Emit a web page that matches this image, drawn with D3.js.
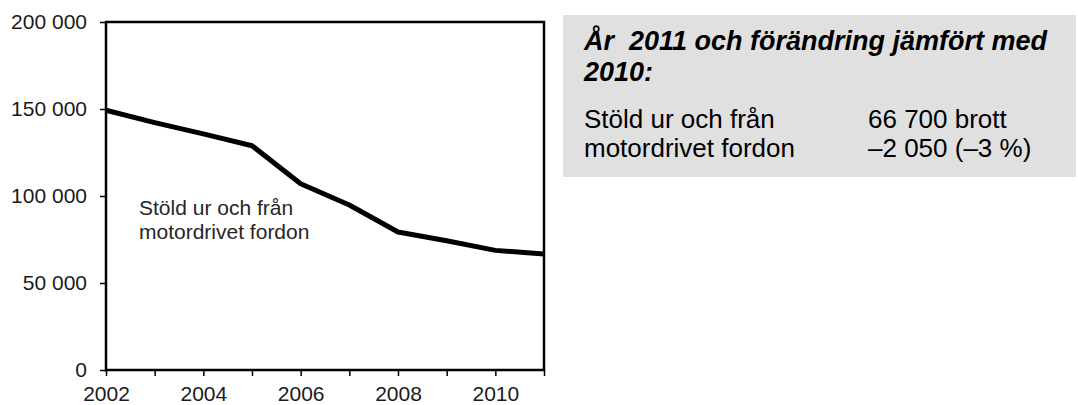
<!DOCTYPE html>
<html>
<head>
<meta charset="utf-8">
<script src="https://cdn.jsdelivr.net/npm/d3@7"></script>
<style>
  body { margin: 0; background: #fff; }
  svg { display: block; font-family: "Liberation Sans", Arial, sans-serif; }
</style>
</head>
<body>
<svg width="1078" height="405"></svg>
<script>
var WIDTH = 1078;
var HEIGHT = 405;

var years = [2002, 2003, 2004, 2005, 2006, 2007, 2008, 2009, 2010, 2011];
var thefts = [149300, 142200, 135700, 128900, 107000, 94800, 79300, 74300, 68750, 66700];
var yTicks = [0, 50000, 100000, 150000, 200000];
var labeledYears = [2002, 2004, 2006, 2008, 2010];
var seriesLabel = ['Stöld ur och från', 'motordrivet fordon'];
var boxTitle = ['År  2011 och förändring jämfört med', '2010:'];
var boxRows = [
    ['Stöld ur och från', '66 700 brott'],
    ['motordrivet fordon', '–2 050 (–3 %)']
];

var plot = { left: 106, top: 22, right: 544, bottom: 370 };

var svg = d3.select('svg')
    .attr('width', WIDTH)
    .attr('height', HEIGHT);

var xScale = d3.scaleLinear()
    .domain([2002, 2011])
    .range([plot.left, plot.right]);

var yScale = d3.scaleLinear()
    .domain([0, 200000])
    .range([plot.bottom, plot.top]);

var sv = d3.formatLocale({ decimal: ',', thousands: ' ', grouping: [3], currency: ['', ''] });
var fmt = sv.format(',d');

// axes
var bottomAxis = d3.axisBottom(xScale)
    .tickValues(years)
    .tickSize(6)
    .tickPadding(10)
    .tickSizeOuter(0)
    .tickFormat(function(d){
        return labeledYears.indexOf(d) >= 0 ? d : '';
    });

var leftAxis = d3.axisLeft(yScale)
    .tickValues(yTicks)
    .tickSize(6)
    .tickPadding(13)
    .tickSizeOuter(0)
    .tickFormat(fmt);

var gx = svg.append('g')
    .attr('transform', 'translate(0,' + plot.bottom + ')')
    .call(bottomAxis);

var gy = svg.append('g')
    .attr('transform', 'translate(' + plot.left + ',0)')
    .call(leftAxis);

[gx, gy].forEach(function(g){
    g.select('.domain').remove();
    g.selectAll('line').attr('stroke', '#000').attr('stroke-width', 1.5);
    g.selectAll('text')
        .attr('fill', '#1a1a1a')
        .style('font-size', '21px');
});

// frame round the plot
svg.append('rect')
    .attr('x', plot.left)
    .attr('y', plot.top)
    .attr('width', plot.right - plot.left)
    .attr('height', plot.bottom - plot.top)
    .attr('fill', 'none')
    .attr('stroke', '#000')
    .attr('stroke-width', 2.5);

// the series
var line = d3.line()
    .x(function(d, i){ return xScale(years[i]); })
    .y(function(d){ return yScale(d); });

svg.append('path')
    .datum(thefts)
    .attr('d', line)
    .attr('fill', 'none')
    .attr('stroke', '#000')
    .attr('stroke-width', 5)
    .attr('stroke-linejoin', 'round');

svg.append('text')
    .attr('x', 139)
    .attr('y', 215)
    .attr('fill', '#262626')
    .style('font-size', '21px')
    .selectAll('tspan')
    .data(seriesLabel)
    .enter()
    .append('tspan')
    .attr('x', 139)
    .attr('dy', function(d, i){ return i === 0 ? 0 : 23.5; })
    .text(function(d){ return d; });

// fact box
svg.append('rect')
    .attr('x', 563)
    .attr('y', 15)
    .attr('width', 513)
    .attr('height', 162)
    .attr('fill', '#e0e0e0');

svg.selectAll('.box-title')
    .data(boxTitle)
    .enter()
    .append('text')
    .attr('class', 'box-title')
    .attr('x', 584)
    .attr('y', function(d, i){ return 50 + i * 31; })
    .style('font-size', '27px')
    .style('font-weight', 'bold')
    .style('font-style', 'italic')
    .style('white-space', 'pre')
    .attr('fill', '#000')
    .text(function(d){ return d; });

var rows = svg.selectAll('.box-row')
    .data(boxRows)
    .enter()
    .append('g')
    .attr('class', 'box-row')
    .attr('transform', function(d, i){ return 'translate(0,' + (128 + i * 29) + ')'; });

rows.append('text')
    .attr('x', 584)
    .style('font-size', '26px')
    .attr('fill', '#000')
    .text(function(d){ return d[0]; });

rows.append('text')
    .attr('x', 868)
    .style('font-size', '26px')
    .attr('fill', '#000')
    .text(function(d){ return d[1]; });
</script>
</body>
</html>
